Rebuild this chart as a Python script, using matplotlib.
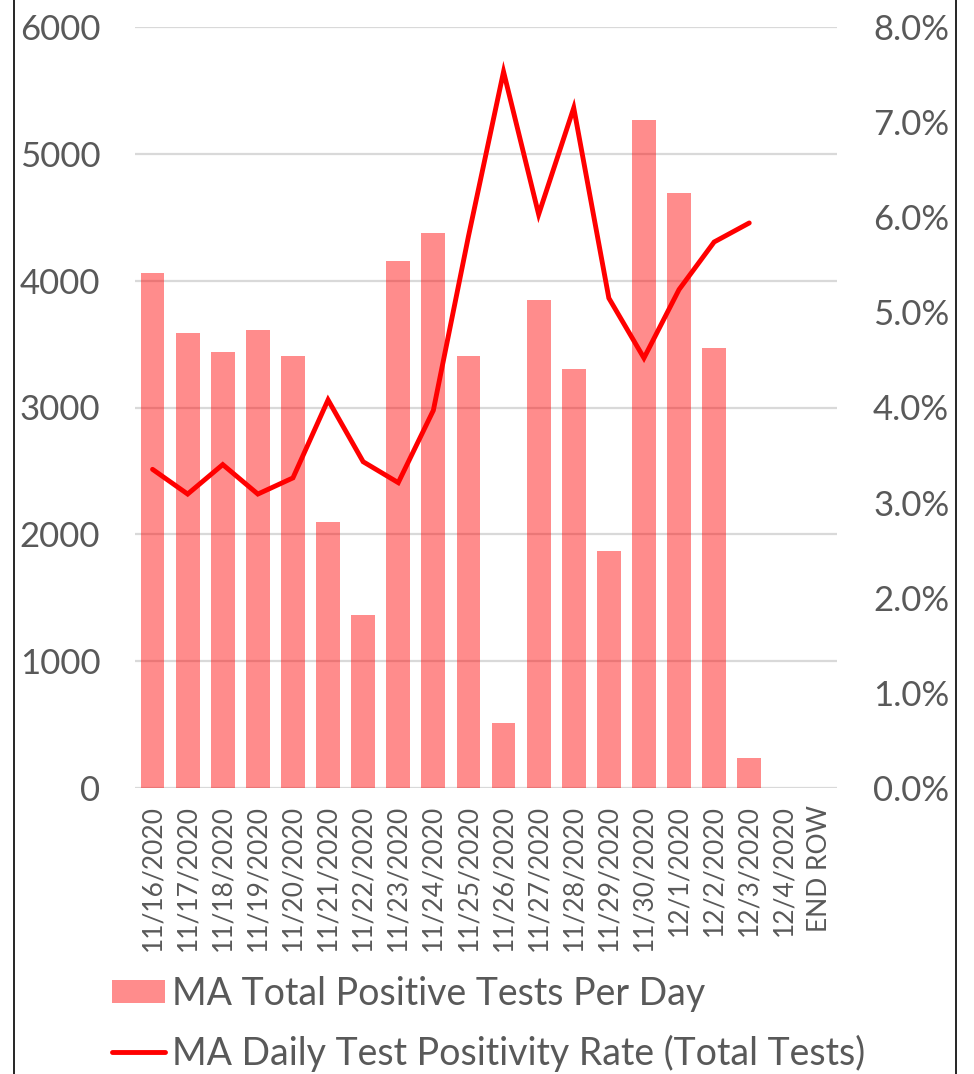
import numpy as np
import matplotlib
matplotlib.use('Agg')
import matplotlib.pyplot as plt
from matplotlib.ticker import FuncFormatter
from matplotlib.lines import Line2D
from matplotlib.patches import Patch

plt.rcParams['font.family'] = ['Lato', 'DejaVu Sans']

dates = ['11/16/2020', '11/17/2020', '11/18/2020', '11/19/2020', '11/20/2020',
         '11/21/2020', '11/22/2020', '11/23/2020', '11/24/2020', '11/25/2020',
         '11/26/2020', '11/27/2020', '11/28/2020', '11/29/2020', '11/30/2020',
         '12/1/2020', '12/2/2020', '12/3/2020', '12/4/2020', 'END ROW']
positives = [4061, 3588, 3438, 3612, 3407, 2098, 1364, 4156, 4377, 3407,
             513, 3849, 3304, 1869, 5268, 4692, 3470, 237, 0, np.nan]
positivity = [0.0335, 0.0309, 0.0340, 0.0309, 0.0326, 0.0408, 0.0343, 0.0321,
              0.0397, 0.0580, 0.0753, 0.0603, 0.0715, 0.0515, 0.0452, 0.0524,
              0.0574, 0.0594, np.nan, np.nan]

grey = '#595959'
x = np.arange(len(dates))

fig = plt.figure(figsize=(9.74, 10.74), dpi=100)
ax = fig.add_axes([135/974, 1 - 788/1074, 702/974, 761/1074])
ax2 = ax.twinx()

ax.bar(x, positives, width=0.68, color=(1, 0, 0, 0.45), zorder=2)
ax2.plot(x, positivity, color='#FF0000', lw=3.5, solid_capstyle='round',
         solid_joinstyle='miter', zorder=3)

ax.set_xlim(-0.5, len(dates) - 0.5)
ax.set_ylim(0, 6000)
ax.set_yticks(range(0, 6001, 1000))
ax2.set_ylim(0, 0.08)
ax2.set_yticks(np.arange(0, 0.0801, 0.01))
ax2.yaxis.set_major_formatter(FuncFormatter(lambda v, p: '%.1f%%' % (v * 100)))

ax.set_axisbelow(True)
ax.grid(axis='y', color='#D9D9D9', lw=1.6, zorder=0)
ax.set_xticks(x)
ax.set_xticklabels(dates, rotation=90, va='top', ha='center')

for a in (ax, ax2):
    for s in a.spines.values():
        s.set_visible(False)
    a.tick_params(length=0, colors=grey)
ax.tick_params(axis='y', labelsize=25, pad=25)
ax.tick_params(axis='x', labelsize=19, pad=12)
ax2.tick_params(axis='y', labelsize=25, pad=26)

handles = [Patch(facecolor=(1, 0, 0, 0.45), edgecolor='none'),
           Line2D([0], [0], color='#FF0000', lw=3.5, solid_capstyle='round')]
labels = ['MA Total Positive Tests Per Day',
          'MA Daily Test Positivity Rate (Total Tests)']
fig.legend(handles, labels, loc='upper left',
           bbox_to_anchor=(112/974, 1 - 976/1074), frameon=False,
           fontsize=27, labelcolor=grey, handlelength=1.4, handleheight=0.55,
           handletextpad=0.2, labelspacing=0.6, borderpad=0, borderaxespad=0)

# chart frame edges
fig.add_artist(Line2D([13.5/974, 13.5/974], [0, 1], color='black', lw=1.2))
fig.add_artist(Line2D([956/974, 956/974], [0, 1], color='black', lw=1.2))

fig.savefig('out.png', dpi=100)
